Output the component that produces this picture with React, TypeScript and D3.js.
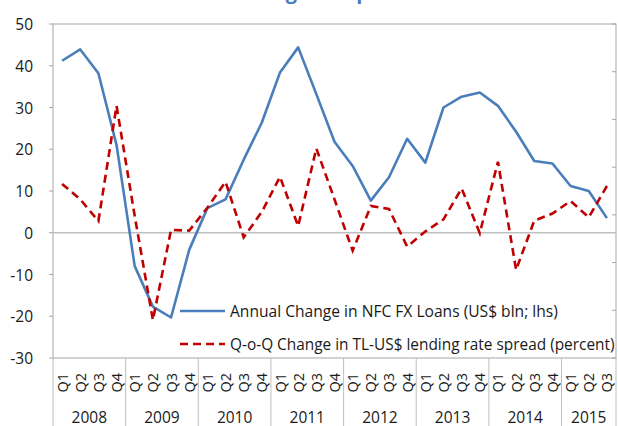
import React from "react";
import * as d3 from "d3";

const periods = [
  "2008Q1","2008Q2","2008Q3","2008Q4",
  "2009Q1","2009Q2","2009Q3","2009Q4",
  "2010Q1","2010Q2","2010Q3","2010Q4",
  "2011Q1","2011Q2","2011Q3","2011Q4",
  "2012Q1","2012Q2","2012Q3","2012Q4",
  "2013Q1","2013Q2","2013Q3","2013Q4",
  "2014Q1","2014Q2","2014Q3","2014Q4",
  "2015Q1","2015Q2","2015Q3",
];
const years = ["2008","2009","2010","2011","2012","2013","2014","2015"];
const fxLoanChange = [
  41.2, 43.9, 38.2, 21.0,
  -8.0, -17.7, -20.3, -4.1,
  5.9, 8.0, 17.5, 26.4,
  38.4, 44.4, 33.2, 21.8,
  16.0, 7.7, 13.3, 22.5,
  16.8, 30.0, 32.6, 33.6,
  30.4, 24.2, 17.2, 16.6,
  11.2, 10.0, 3.5,
];
const spreadChange = [
  11.7, 8.0, 2.8, 30.4,
  4.0, -20.9, 0.7, 0.5,
  6.0, 12.2, -1.1, 5.0,
  13.4, 1.6, 20.2, 8.0,
  -4.3, 6.4, 5.7, -3.3,
  0.3, 3.2, 10.6, -0.1,
  17.0, -8.9, 2.9, 4.6,
  7.6, 3.7, 11.2,
];
const yTicks = [-30, -20, -10, 0, 10, 20, 30, 40, 50];
const seriesNames = [
  "Annual Change in NFC FX Loans (US$ bln; lhs)",
  "Q-o-Q Change in TL-US$ lending rate spread (percent)",
];
const titleText = "FX Lending and Spread";

const W = 618, H = 426;
const L = 53, R = 616, T = 24, B = 358;
const FONT = "'Open Sans', 'Noto Sans', sans-serif";
const BLUE = "#4A7EBB";
const RED = "#C00000";
const GRID = "#BFBFBF";
const AXIS = "#A6A6A6";

export default function App() {
  const x = d3.scaleBand<string>().domain(periods).range([L, R]);
  const y = d3.scaleLinear().domain([-30, 50]).range([B, T]);
  const yRight = d3.scaleLinear().domain([0, 7]).range([B, T]);
  const cx = (p: string) => (x(p) as number) + x.bandwidth() / 2;

  const line = d3
    .line<number>()
    .x((_, i) => cx(periods[i]))
    .y((d) => y(d));

  const yearGroups = years.map((yr) => {
    const ps = periods.filter((p) => p.startsWith(yr));
    const x0 = x(ps[0]) as number;
    const x1 = (x(ps[ps.length - 1]) as number) + x.bandwidth();
    return { yr, x0, x1 };
  });

  return (
    <svg
      width={W}
      height={H}
      style={{ position: "absolute", left: 0, top: 0, background: "#fff" }}
      fontFamily={FONT}
    >
      <rect x={0} y={0} width={W} height={H} fill="#fff" />
      {/* title (mostly cut off) */}
      <text x={188} y={-1} fill={BLUE} fontSize={20} fontWeight="bold">
        {titleText}
      </text>

      {/* plot border */}
      <rect x={L} y={T} width={R - L} height={B - T} fill="none" stroke={AXIS} strokeWidth={1} />
      {/* zero line */}
      <line x1={L} x2={R} y1={y(0)} y2={y(0)} stroke={GRID} strokeWidth={1.5} />

      {/* left ticks */}
      {yTicks.map((t) => (
        <g key={t}>
          <line x1={L - 4} x2={L} y1={y(t)} y2={y(t)} stroke={AXIS} />
          <text
            x={33}
            y={y(t)}
            textAnchor="end"
            dominantBaseline="central"
            fontSize={15.5}
            fill="#1a1a1a"
          >
            {t}
          </text>
        </g>
      ))}
      {/* right ticks */}
      {yRight.ticks(7).map((t) => (
        <line key={t} x1={R - 4} x2={R} y1={yRight(t)} y2={yRight(t)} stroke={AXIS} />
      ))}

      {/* year separators */}
      {yearGroups.map((g, i) => (
        <line key={"s" + i} x1={g.x0} x2={g.x0} y1={B} y2={H} stroke={GRID} />
      ))}
      <line x1={R} x2={R} y1={B} y2={H} stroke={GRID} />

      {/* quarter labels */}
      {periods.map((p) => (
        <text
          key={p}
          transform={`translate(${cx(p)},${B + 15}) rotate(-90)`}
          textAnchor="end"
          dominantBaseline="central"
          fontSize={14.5}
          fill="#1a1a1a"
        >
          {p.slice(4)}
        </text>
      ))}
      {/* year labels */}
      {yearGroups.map((g) => (
        <text
          key={g.yr}
          x={(g.x0 + g.x1) / 2}
          y={422.5}
          textAnchor="middle"
          fontSize={15.5}
          fill="#1a1a1a"
        >
          {g.yr}
        </text>
      ))}

      {/* series */}
      <path d={line(fxLoanChange) || ""} fill="none" stroke={BLUE} strokeWidth={2.6} strokeLinejoin="round" />
      <path
        d={line(spreadChange) || ""}
        fill="none"
        stroke={RED}
        strokeWidth={2.6}
        strokeDasharray="8,5"
      />

      {/* legend */}
      <line x1={180} x2={225} y1={311} y2={311} stroke={BLUE} strokeWidth={2.6} />
      <text x={230} y={311} dominantBaseline="central" fontSize={15.6} fill="#1a1a1a">
        {seriesNames[0]}
      </text>
      <line x1={180} x2={225} y1={344} y2={344} stroke={RED} strokeWidth={2.6} strokeDasharray="8,5" />
      <text x={230} y={344} dominantBaseline="central" fontSize={15.4} fill="#1a1a1a">
        {seriesNames[1]}
      </text>
    </svg>
  );
}
